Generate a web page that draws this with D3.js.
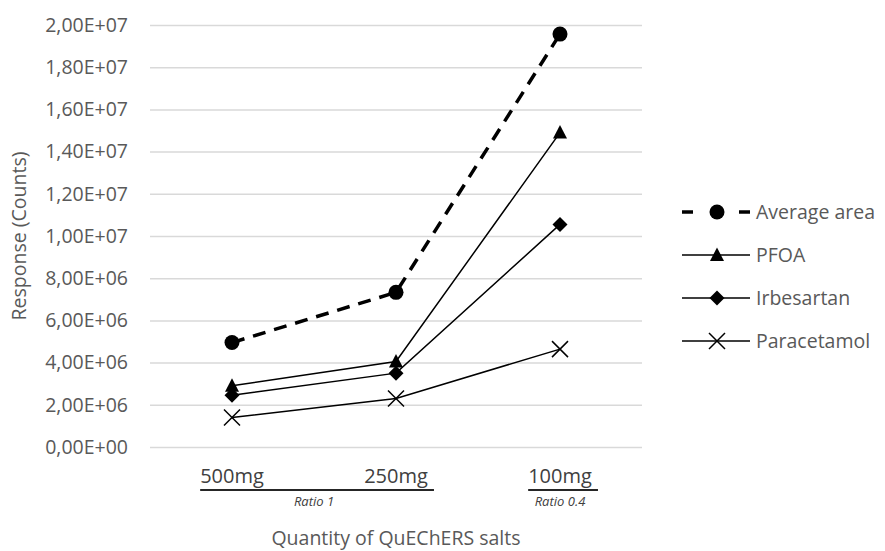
<!DOCTYPE html>
<html>
<head>
<meta charset="utf-8">
<script src="https://cdn.jsdelivr.net/npm/d3@7"></script>
<style>
  html, body { margin: 0; padding: 0; background: #fff; }
  svg { display: block; font-family: "Open Sans", sans-serif; }
</style>
</head>
<body>
<svg id="chart"></svg>
<script>
// data
const categories = ["500mg", "250mg", "100mg"];
const averageArea = [4.95e6, 7.33e6, 1.957e7];
const pfoa = [2.9e6, 4.05e6, 1.49e7];
const irbesartan = [2.45e6, 3.5e6, 1.055e7];
const paracetamol = [1.4e6, 2.3e6, 4.64e6];
const yTicks = d3.range(0, 2.0001e7, 2e6);
const groups = [
  { label: "Ratio 1", cats: ["500mg", "250mg"] },
  { label: "Ratio 0.4", cats: ["100mg"] }
];

const series = [
  { name: "Average area", values: averageArea, marker: "circle", dashed: true },
  { name: "PFOA", values: pfoa, marker: "triangle", dashed: false },
  { name: "Irbesartan", values: irbesartan, marker: "diamond", dashed: false },
  { name: "Paracetamol", values: paracetamol, marker: "cross", dashed: false }
];

const width = 885, height = 551;
const margin = { top: 25, right: 243, bottom: 104, left: 150 };
const textColor = "#595959";
const fs = "19.5px";

const svg = d3.select("#chart").attr("width", width).attr("height", height);

const x = d3.scaleBand().domain(categories).range([margin.left, width - margin.right]);
const y = d3.scaleLinear().domain([0, 2e7]).range([height - margin.bottom, margin.top]);

// excel style "2,00E+07"
function sci(v) {
  if (v === 0) return "0,00E+00";
  const e = Math.floor(Math.log10(v));
  const m = v / Math.pow(10, e);
  return m.toFixed(2).replace(".", ",") + "E+" + String(e).padStart(2, "0");
}

// grid + y ticks
const yAxis = d3.axisLeft(y).tickValues(yTicks).tickFormat(sci)
  .tickSize(-(width - margin.right - margin.left)).tickPadding(22);
const gy = svg.append("g").attr("transform", `translate(${margin.left},0)`).call(yAxis);
gy.select(".domain").remove();
gy.selectAll(".tick line").attr("stroke", "#d9d9d9").attr("stroke-width", 1.5);
gy.selectAll(".tick text").attr("fill", textColor).style("font-size", fs)
  .attr("font-family", "Open Sans, sans-serif");

// y title
svg.append("text")
  .attr("transform", `translate(26,${(margin.top + height - margin.bottom) / 2}) rotate(-90)`)
  .attr("text-anchor", "middle")
  .attr("fill", textColor)
  .style("font-size", fs)
  .text("Response (Counts)");

// x category labels
const cx = c => x(c) + x.bandwidth() / 2;
const xLabels = svg.append("g").selectAll("text")
  .data(categories).enter().append("text")
  .attr("x", cx)
  .attr("y", 483)
  .attr("text-anchor", "middle")
  .attr("fill", "#404040")
  .style("font-size", "20px")
  .text(d => d);

// group underline + ratio labels
const boxes = {};
xLabels.each(function (d) { boxes[d] = this.getBBox(); });
groups.forEach(g => {
  const first = boxes[g.cats[0]], last = boxes[g.cats[g.cats.length - 1]];
  svg.append("line")
    .attr("x1", first.x).attr("x2", last.x + last.width + 6)
    .attr("y1", 490).attr("y2", 490)
    .attr("stroke", "#262626").attr("stroke-width", 2);
  const mid = d3.mean(g.cats, cx);
  svg.append("text")
    .attr("x", mid).attr("y", 506)
    .attr("text-anchor", "middle")
    .attr("fill", "#404040")
    .style("font-size", "13px")
    .style("font-style", "italic")
    .text(g.label);
});

// x title
svg.append("text")
  .attr("x", (margin.left + width - margin.right) / 2)
  .attr("y", 545)
  .attr("text-anchor", "middle")
  .attr("fill", textColor)
  .style("font-size", fs)
  .text("Quantity of QuEChERS salts");

// marker drawer
function drawMarker(sel, type) {
  if (type === "circle") {
    sel.append("circle").attr("r", 7.5).attr("fill", "#000");
  } else if (type === "triangle") {
    sel.append("path").attr("d", "M0,-7.5L7,6L-7,6Z").attr("fill", "#000");
  } else if (type === "diamond") {
    sel.append("path").attr("d", "M0,-7.5L7.5,0L0,7.5L-7.5,0Z").attr("fill", "#000");
  } else {
    sel.append("path").attr("d", "M-8,-8L8,8M-8,8L8,-8")
      .attr("stroke", "#000").attr("stroke-width", 1.5).attr("fill", "none");
  }
}

const line = d3.line().x((d, i) => cx(categories[i])).y(d => y(d));

series.forEach(s => {
  svg.append("path")
    .datum(s.values)
    .attr("d", line)
    .attr("fill", "none")
    .attr("stroke", "#000")
    .attr("stroke-width", s.dashed ? 3.5 : 1.5)
    .attr("stroke-dasharray", s.dashed ? "13,9" : null);
  s.values.forEach((v, i) => {
    const g = svg.append("g").attr("transform", `translate(${cx(categories[i])},${y(v)})`);
    drawMarker(g, s.marker);
  });
});

// legend
const legend = svg.append("g").attr("transform", "translate(682,212)");
series.forEach((s, i) => {
  const row = legend.append("g").attr("transform", `translate(0,${i * 43})`);
  if (s.dashed) {
    row.append("line").attr("x1", 0).attr("x2", 11).attr("stroke", "#000").attr("stroke-width", 3.5);
    row.append("line").attr("x1", 57).attr("x2", 68).attr("stroke", "#000").attr("stroke-width", 3.5);
  } else {
    row.append("line").attr("x1", 0).attr("x2", 68).attr("stroke", "#000").attr("stroke-width", 1.5);
  }
  drawMarker(row.append("g").attr("transform", "translate(35,0)"), s.marker);
  row.append("text")
    .attr("x", 74).attr("y", 0).attr("dy", "0.35em")
    .attr("fill", textColor)
    .style("font-size", fs)
    .text(s.name);
});
</script>
</body>
</html>
